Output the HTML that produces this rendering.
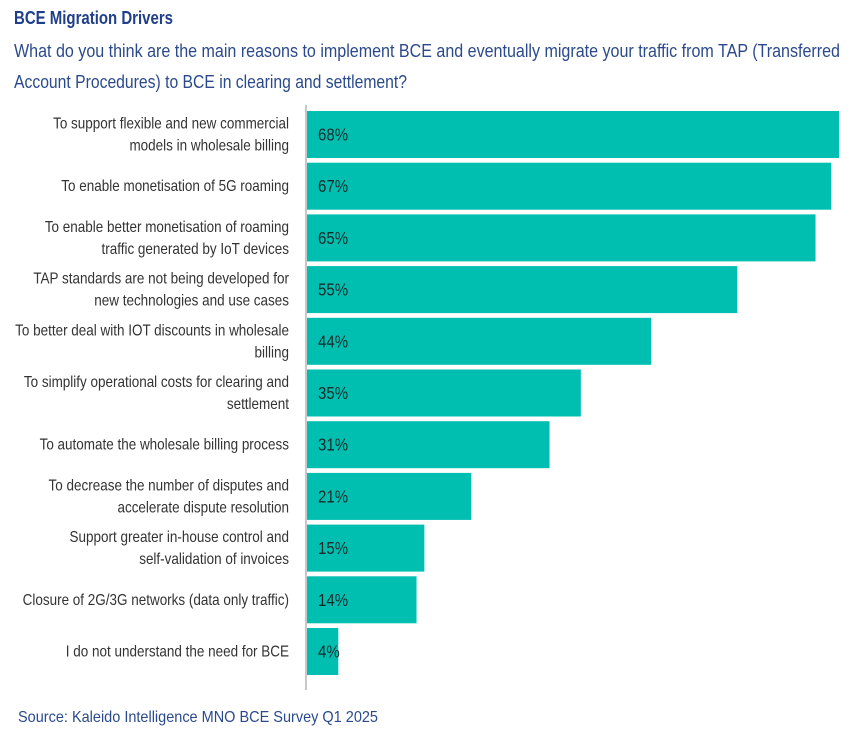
<!DOCTYPE html>
<html><head><meta charset="utf-8"><style>
body{margin:0;background:#fff}
svg{display:block;font-family:"Liberation Sans",sans-serif}
</style></head><body>
<svg id="chart" width="858" height="735" viewBox="0 0 858 735">
<text x="14" y="24" font-size="18" font-weight="bold" fill="#1f3f8a" textLength="159" lengthAdjust="spacingAndGlyphs">BCE Migration Drivers</text>
<text x="14" y="57" font-size="18" fill="#2b4a8c" textLength="826" lengthAdjust="spacingAndGlyphs">What do you think are the main reasons to implement BCE and eventually migrate your traffic from TAP (Transferred</text>
<text x="14" y="88" font-size="18" fill="#2b4a8c" textLength="393" lengthAdjust="spacingAndGlyphs">Account Procedures) to BCE in clearing and settlement?</text>
<line x1="306" y1="105" x2="306" y2="690" stroke="#c8c8c8" stroke-width="2"/>
<g id="bars"></g>
<text x="18" y="722" font-size="16" fill="#2b4a8c" textLength="360" lengthAdjust="spacingAndGlyphs">Source: Kaleido Intelligence MNO BCE Survey Q1 2025</text>
</svg>
<script>
const categories = [
 ["To support flexible and new commercial","models in wholesale billing"],
 ["To enable monetisation of 5G roaming"],
 ["To enable better monetisation of roaming","traffic generated by IoT devices"],
 ["TAP standards are not being developed for","new technologies and use cases"],
 ["To better deal with IOT discounts in wholesale","billing"],
 ["To simplify operational costs for clearing and","settlement"],
 ["To automate the wholesale billing process"],
 ["To decrease the number of disputes and","accelerate dispute resolution"],
 ["Support greater in-house control and","self-validation of invoices"],
 ["Closure of 2G/3G networks (data only traffic)"],
 ["I do not understand the need for BCE"]
];
const values = [68,67,65,55,44,35,31,21,15,14,4];
const valueLabels = ["68%","67%","65%","55%","44%","35%","31%","21%","15%","14%","4%"];

const NS="http://www.w3.org/2000/svg";
const x0=307, pxPerPct=(839-307)/68;
const xScale=v=>v*pxPerPct;
const yTop=111, pitch=51.7, barH=47;
const yScale=i=>yTop+i*pitch;
const g=document.getElementById('bars');
values.forEach((v,i)=>{
  const y=yScale(i), cy=y+barH/2;
  const r=document.createElementNS(NS,'rect');
  
  
  r.setAttribute('x',x0);r.setAttribute('y',y);
  r.setAttribute('width',xScale(v));r.setAttribute('height',barH);
  r.setAttribute('fill','#00bfb0');
  g.appendChild(r);
  const t=document.createElementNS(NS,'text');
  
  
  t.setAttribute('transform','translate(318,'+(cy+6)+') scale(0.86,1)');
  t.setAttribute('font-size','17.5');t.setAttribute('fill','#1a2a2a');
  t.textContent=valueLabels[i];
  g.appendChild(t);
  const lines=categories[i];
  lines.forEach((ln,j)=>{
    const ty=cy+5+(lines.length===2?(j===0?-11:11):0);
    const c=document.createElementNS(NS,'text');
    
    
    c.setAttribute('transform','translate(289,'+ty+') scale(0.87,1)');
    c.setAttribute('text-anchor','end');
    c.setAttribute('font-size','15.5');c.setAttribute('fill','#333');
    c.textContent=ln;
    g.appendChild(c);
  });
});
</script>
</body></html>
